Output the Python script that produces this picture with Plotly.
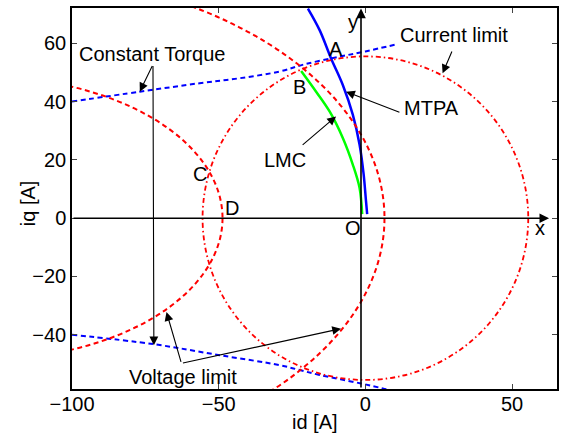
import plotly.graph_objects as go

# ---------------- data ----------------
# constant-torque curves (blue dashed)
torque_up_id = [-100.0, -76.9, -56.5, -42.9, -29.3, -20.7, -8.8, 0.0, 10.4]
torque_up_iq = [40.0, 43.4, 46.3, 48.0, 50.3, 52.8, 55.4, 57.2, 59.6]
torque_lo_id = [-100.0, -72.3, -49.7, -29.3, -22.4, -15.6, -1.5, 5.9, 10.4]
torque_lo_iq = [-40.0, -43.2, -47.0, -50.4, -52.1, -53.8, -56.7, -58.4, -59.6]

# MTPA trajectory (blue solid)
mtpa_id = [-19.6, -15.6, -11.7, -7.7, -4.3, -2.0, -0.6, 0.2, 0.6]
mtpa_iq = [71.9, 64.5, 54.8, 45.7, 35.5, 25.3, 15.0, 5.9, 1.4]

# LMC trajectory (green solid)
lmc_id = [-21.9, -16.8, -12.2, -7.7, -4.3, -2.0, -1.1]
lmc_iq = [50.5, 43.4, 36.6, 27.5, 18.4, 10.4, 1.4]

# current limit circle: centre and radius
cur_center = (0.0, 0.0)
cur_radius = 55.5
# voltage limit ellipses: centre id, semi-axis along id, semi-axis along iq
volt_center = -130.0
volt_outer = (136.5, 85.0)
volt_inner = (81.3, 48.5)

# text labels: (text, id, iq)
point_labels = [("A", -10.0, 58.2), ("B", -22.4, 45.1), ("C", -56.5, 15.0),
                ("D", -45.5, 3.4), ("O", -4.3, -3.5), ("x", 59.4, -3.5),
                ("y", -4.3, 67.4)]
name_labels = [("Constant Torque", -72.8, 56.4), ("Voltage limit", -62.0, -54.6),
               ("Current limit", 30.2, 63.0), ("MTPA", 22.4, 37.7),
               ("LMC", -27.4, 19.9)]
# arrows: (tip id, tip iq, tail id, tail iq)
arrows = [(-76.9, 43.4, -72.4, 52.7), (-72.1, -43.6, -72.4, 52.7),
          (-67.8, -32.2, -62.7, -49.8), (-8.3, -37.9, -62.7, -49.8),
          (26.3, 49.7, 29.7, 57.7), (-6.6, 43.4, 12.1, 36.1),
          (-10.0, 34.9, -21.9, 24.7)]
# coordinate-axis arrows (tip, tail)
axis_arrows = [(62.6, 0.0, -100.0, 0.0), (-1.5, 71.9, -1.5, -58.6)]

x_range = [-100.0, 65.3]
y_range = [-58.6, 72.1]
x_ticks = [-100, -50, 0, 50]
y_ticks = [-40, -20, 0, 20, 40, 60]
x_title = "id [A]"
y_title = "iq [A]"

FONT = "Liberation Sans, Arial, sans-serif"
DASH = "5px,3.5px"

fig = go.Figure()
fig.add_trace(go.Scatter(x=torque_up_id, y=torque_up_iq, mode="lines",
                         line=dict(color="#0000ff", width=2, dash=DASH),
                         line_shape="spline"))
fig.add_trace(go.Scatter(x=torque_lo_id, y=torque_lo_iq, mode="lines",
                         line=dict(color="#0000ff", width=2, dash=DASH),
                         line_shape="spline"))
fig.add_trace(go.Scatter(x=mtpa_id, y=mtpa_iq, mode="lines",
                         line=dict(color="#0000ff", width=2.5), line_shape="spline"))
fig.add_trace(go.Scatter(x=lmc_id, y=lmc_iq, mode="lines",
                         line=dict(color="#00ff00", width=2.5), line_shape="spline"))

shapes = []
cx, cy = cur_center
shapes.append(dict(type="circle", xref="x", yref="y",
                   x0=cx - cur_radius, x1=cx + cur_radius,
                   y0=cy - cur_radius, y1=cy + cur_radius,
                   line=dict(color="#ff0000", width=1.8, dash="5px,3px,1.5px,3px")))
for a, b in (volt_outer, volt_inner):
    shapes.append(dict(type="circle", xref="x", yref="y",
                       x0=volt_center - a, x1=volt_center + a, y0=-b, y1=b,
                       line=dict(color="#ff0000", width=2, dash=DASH)))

annotations = []
for tx, ty, fx, fy in axis_arrows:
    annotations.append(dict(x=tx, y=ty, ax=fx, ay=fy, xref="x", yref="y",
                            axref="x", ayref="y", text="", showarrow=True,
                            arrowhead=2, arrowsize=1.2, arrowwidth=1.6,
                            arrowcolor="black", standoff=0, startstandoff=0))
for tx, ty, fx, fy in arrows:
    annotations.append(dict(x=tx, y=ty, ax=fx, ay=fy, xref="x", yref="y",
                            axref="x", ayref="y", text="", showarrow=True,
                            arrowhead=2, arrowsize=1.6, arrowwidth=1.1,
                            arrowcolor="black", standoff=0, startstandoff=0))
for t, x, y in point_labels + name_labels:
    annotations.append(dict(x=x, y=y, xref="x", yref="y", text=t, showarrow=False,
                            font=dict(family=FONT, size=20, color="black")))
# axis titles
annotations.append(dict(x=0.5, y=-0.086, xref="paper", yref="paper", text=x_title,
                        showarrow=False, xanchor="center", yanchor="middle",
                        font=dict(family=FONT, size=20, color="black")))
annotations.append(dict(x=-0.0905, y=0.488, xref="paper", yref="paper", text=y_title,
                        showarrow=False, xanchor="center", yanchor="middle",
                        textangle=-90,
                        font=dict(family=FONT, size=20, color="black")))

fig.update_layout(
    width=565, height=434,
    margin=dict(l=72, r=7, t=6, b=45),
    paper_bgcolor="white", plot_bgcolor="white",
    showlegend=False,
    shapes=shapes, annotations=annotations,
    font=dict(family=FONT, size=20, color="black"),
)
fig.update_xaxes(range=x_range, tickvals=x_ticks, ticks="inside", ticklen=5,
                 showline=True, linecolor="black", linewidth=1.5, mirror="ticks",
                 showgrid=False, zeroline=False, ticklabelstandoff=-4)
fig.update_yaxes(range=y_range, tickvals=y_ticks, ticks="inside", ticklen=5,
                 showline=True, linecolor="black", linewidth=1.5, mirror="ticks",
                 showgrid=False, zeroline=False)

fig.write_html("out.html")
